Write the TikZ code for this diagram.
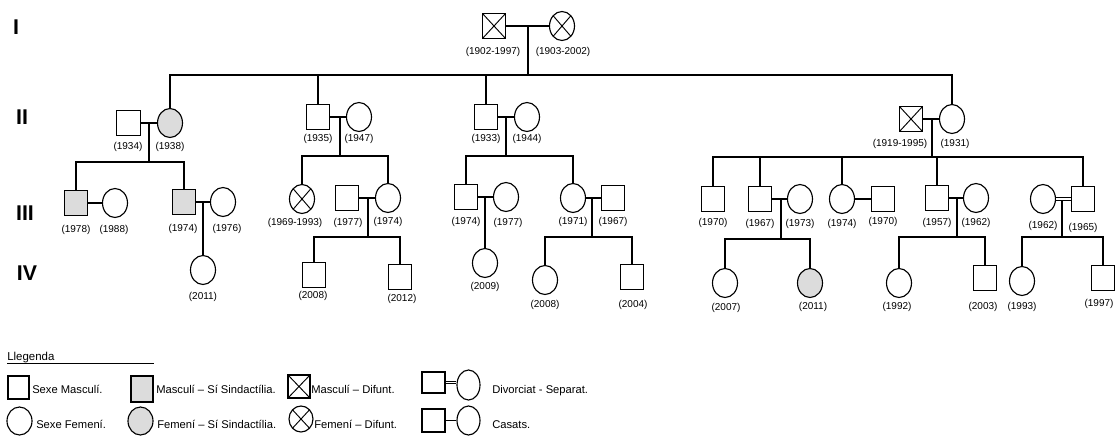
\documentclass[tikz,border=0pt]{standalone}
\usepackage{fontspec}
\setmainfont{Liberation Sans}
\usetikzlibrary{shapes.geometric,calc}
\definecolor{affgray}{HTML}{DCDCDC}
\tikzset{
  male/.style={draw, rectangle, minimum width=17.5pt, minimum height=19pt, inner sep=0pt, line width=0.85pt},
  female/.style={draw, ellipse, minimum width=18.75pt, minimum height=21.75pt, inner sep=0pt, line width=0.85pt},
  affected/.style={fill=affgray},
  deceased/.style={path picture={\draw[line width=0.7pt] (path picture bounding box.south west) -- (path picture bounding box.north east) (path picture bounding box.north west) -- (path picture bounding box.south east);}},
  lbl/.style={font=\fontsize{7.5pt}{8pt}\selectfont, inner sep=0pt},
  gen/.style={font=\fontsize{16pt}{18pt}\selectfont\bfseries, inner sep=0pt},
  leg/.style={font=\fontsize{8.4pt}{10pt}\selectfont, inner sep=0pt, anchor=base west},
  link/.style={line width=0.85pt},
  divorced/.style={line width=0.7pt, double, double distance=1.4pt},
}
\begin{document}
\begin{tikzpicture}[x=0.75pt, y=-0.75pt]
\useasboundingbox (0,0) rectangle (1115,440);

% generation labels
\node[gen] (gI) at (16,27) {I};
\node[gen] (gII) at (22,117) {II};
\node[gen] (gIII) at (25,213) {III};
\node[gen] (gIV) at (27,273) {IV};

% ---------- Generation I ----------
\node[male, deceased] (p1) at (494,26) {};
\node[female, deceased] (p2) at (562,26) {};
\node[lbl] (lp1) at (493,52) {(1902-1997)};
\node[lbl] (lp2) at (563,52) {(1903-2002)};
\coordinate (mI) at (528,26);
\coordinate (bI) at (528,75);
\draw[link] (p1.east) -- (p2.west);
\draw[link] (mI) -- (bI);

% ---------- Generation II ----------
\node[male] (s1934) at (128.5,123) {};
\node[female, affected] (c1938) at (170,123) {};
\node[lbl] (l1934) at (128,147) {(1934)};
\node[lbl] (l1938) at (170,147) {(1938)};
\coordinate (m1) at (149,123);
\coordinate (b1) at (149,162);

\node[male] (s1935) at (318,117) {};
\node[female] (c1947) at (359,117) {};
\node[lbl] (l1935) at (318,139) {(1935)};
\node[lbl] (l1947) at (359,139) {(1947)};
\coordinate (m2) at (340,117);
\coordinate (b2) at (340,156);

\node[male] (s1933) at (486,117) {};
\node[female] (c1944) at (527,117) {};
\node[lbl] (l1933) at (486,139) {(1933)};
\node[lbl] (l1944) at (527,139) {(1944)};
\coordinate (m3) at (506,117);
\coordinate (b3) at (506,156);

\node[male, deceased] (s1919) at (911,119) {};
\node[female] (c1931) at (952,119) {};
\node[lbl] (l1919) at (900,144) {(1919-1995)};
\node[lbl] (l1931) at (955,144) {(1931)};
\coordinate (m4) at (932,119);
\coordinate (b4) at (932,157);

\draw[link] (bI) -| (c1938.north);
\draw[link] (bI) -| (s1935.north);
\draw[link] (bI) -| (s1933.north);
\draw[link] (bI) -| (c1931.north);
\draw[link] (s1934.east) -- (c1938.west);
\draw[link] (s1935.east) -- (c1947.west);
\draw[link] (s1933.east) -- (c1944.west);
\draw[link] (s1919.east) -- (c1931.west);
\draw[link] (m1) -- (b1);
\draw[link] (m2) -- (b2);
\draw[link] (m3) -- (b3);
\draw[link] (m4) -- (b4);

% ---------- Generation III : family 1 ----------
\node[male, affected] (s1978) at (76,203) {};
\node[female] (c1988) at (115,203) {};
\node[lbl] (l1978) at (76,230) {(1978)};
\node[lbl] (l1988) at (114,230) {(1988)};
\node[male, affected] (s1974a) at (184,202) {};
\node[female] (c1976) at (223,202) {};
\node[lbl] (l1974a) at (183,229) {(1974)};
\node[lbl] (l1976) at (227,229) {(1976)};
\coordinate (m5) at (203,202);
\node[female] (c2011a) at (203,270) {};
\node[lbl] (l2011a) at (203,297) {(2011)};
\draw[link] (b1) -| (s1978.north);
\draw[link] (b1) -| (s1974a.north);
\draw[link] (s1978.east) -- (c1988.west);
\draw[link] (s1974a.east) -- (c1976.west);
\draw[link] (m5) -- (c2011a.north);

% ---------- Generation III : family 2 ----------
\node[female, deceased] (c1969) at (302,199) {};
\node[lbl] (l1969) at (295,223) {(1969-1993)};
\node[male] (s1977) at (347,198) {};
\node[female] (c1974b) at (388,198) {};
\node[lbl] (l1977) at (348,223) {(1977)};
\node[lbl] (l1974b) at (388,222) {(1974)};
\coordinate (m6) at (368,198);
\coordinate (b6) at (368,237);
\node[male] (s2008a) at (314,275) {};
\node[male] (s2012) at (400,277) {};
\node[lbl] (l2008a) at (313,296) {(2008)};
\node[lbl] (l2012) at (402,299) {(2012)};
\draw[link] (b2) -| (c1969.north);
\draw[link] (b2) -| (c1974b.north);
\draw[link] (s1977.east) -- (c1974b.west);
\draw[link] (m6) -- (b6);
\draw[link] (b6) -| (s2008a.north);
\draw[link] (b6) -| (s2012.north);

% ---------- Generation III : family 3 ----------
\node[male] (s1974c) at (466,197) {};
\node[female] (c1977) at (506,197) {};
\node[lbl] (l1974c) at (466,222) {(1974)};
\node[lbl] (l1977b) at (508,223) {(1977)};
\coordinate (m7) at (485,197);
\node[female] (c2009) at (485,263) {};
\node[lbl] (l2009) at (485,287) {(2009)};
\node[female] (c1971) at (573,198) {};
\node[male] (s1967a) at (613,198) {};
\node[lbl] (l1971) at (573,222) {(1971)};
\node[lbl] (l1967a) at (613,222) {(1967)};
\coordinate (m8) at (592,198);
\coordinate (b8) at (592,237);
\node[female] (c2008) at (545,280) {};
\node[male] (s2004) at (632,277) {};
\node[lbl] (l2008b) at (545,305) {(2008)};
\node[lbl] (l2004) at (633,305) {(2004)};
\draw[link] (b3) -| (s1974c.north);
\draw[link] (b3) -| (c1971.north);
\draw[link] (s1974c.east) -- (c1977.west);
\draw[link] (m7) -- (c2009.north);
\draw[link] (c1971.east) -- (s1967a.west);
\draw[link] (m8) -- (b8);
\draw[link] (b8) -| (c2008.north);
\draw[link] (b8) -| (s2004.north);

% ---------- Generation III : family 4 ----------
\node[male] (s1970a) at (713,199) {};
\node[lbl] (l1970a) at (713,223) {(1970)};
\node[male] (s1967b) at (760,199) {};
\node[female] (c1973) at (800,199) {};
\node[lbl] (l1967b) at (760,224) {(1967)};
\node[lbl] (l1973) at (800,224) {(1973)};
\coordinate (m9) at (781,199);
\coordinate (b9) at (781,239);
\node[female] (c1974d) at (842,199) {};
\node[male] (s1970b) at (883,199) {};
\node[lbl] (l1974d) at (842,224) {(1974)};
\node[lbl] (l1970b) at (883,222) {(1970)};
\node[male] (s1957) at (937,198) {};
\node[female] (c1962a) at (976,198) {};
\node[lbl] (l1957) at (937,223) {(1957)};
\node[lbl] (l1962a) at (976,223) {(1962)};
\coordinate (m10) at (957,198);
\coordinate (b10) at (957,237);
\node[female] (c1962b) at (1043,199) {};
\node[male] (s1965) at (1083,199) {};
\node[lbl] (l1962b) at (1043,226) {(1962)};
\node[lbl] (l1965) at (1083,228) {(1965)};
\coordinate (m11) at (1062,200);
\coordinate (b11) at (1062,237);

\draw[link] (b4) -| (s1970a.north);
\draw[link] (b4) -| (s1967b.north);
\draw[link] (b4) -| (c1974d.north);
\draw[link] (b4) -| (s1957.north);
\draw[link] (b4) -| (s1965.north);
\draw[link] (s1967b.east) -- (c1973.west);
\draw[link] (c1974d.east) -- (s1970b.west);
\draw[link] (s1957.east) -- (c1962a.west);
\draw[divorced] (c1962b.east) -- (s1965.west);
\draw[link] (m9) -- (b9);
\draw[link] (m10) -- (b10);
\draw[link] (m11) -- (b11);

% ---------- Generation IV : family 4 ----------
\node[female] (c2007) at (725,283) {};
\node[female, affected] (c2011b) at (810,283) {};
\node[lbl] (l2007) at (726,308) {(2007)};
\node[lbl] (l2011b) at (813,307) {(2011)};
\node[female] (c1992) at (899,283) {};
\node[male] (s2003) at (985,278) {};
\node[lbl] (l1992) at (897,307) {(1992)};
\node[lbl] (l2003) at (983,307) {(2003)};
\node[female] (c1993) at (1022,281) {};
\node[male] (s1997) at (1103,278) {};
\node[lbl] (l1993) at (1022,307) {(1993)};
\node[lbl] (l1997) at (1099,304) {(1997)};
\draw[link] (b9) -| (c2007.north);
\draw[link] (b9) -| (c2011b.north);
\draw[link] (b10) -| (c1992.north);
\draw[link] (b10) -| (s2003.north);
\draw[link] (b11) -| (c1993.north);
\draw[link] (b11) -| (s1997.north);

% ---------- Legend ----------
\node[leg, font=\fontsize{8.6pt}{10pt}\selectfont] (lt) at (7,360) {Llegenda};
\coordinate (u1) at (7,363);
\coordinate (u2) at (154,363);
\draw[line width=0.6pt] (u1) -- (u2);

\node[male, minimum width=15.75pt, minimum height=17.25pt] (k1) at (18.5,387.5) {};
\node[leg] (t1) at (32,393) {Sexe Masculí.};
\node[male, affected, minimum width=16.5pt, minimum height=19.5pt] (k2) at (142,389) {};
\node[leg] (t2) at (156,393) {Masculí – Sí Sindactília.};
\node[male, deceased, minimum width=16.5pt, minimum height=17.25pt] (k3) at (299,386.5) {};
\node[leg] (t3) at (311,393) {Masculí – Difunt.};
\node[male, minimum width=17.25pt, minimum height=15.75pt] (k4a) at (433.5,382.5) {};
\node[female, minimum width=17.25pt, minimum height=22.5pt] (k4b) at (468.5,385) {};
\draw[divorced] (k4a.east) -- (k4a.east -| k4b.west);
\node[leg] (t4) at (492,393) {Divorciat - Separat.};

\node[female, minimum width=18.75pt, minimum height=21pt] (k5) at (19.5,421) {};
\node[leg] (t5) at (36,428) {Sexe Femení.};
\node[female, affected, minimum width=18.75pt, minimum height=21pt] (k6) at (140.5,421) {};
\node[leg] (t6) at (157,428) {Femení – Sí Sindactília.};
\node[female, deceased, minimum width=18pt, minimum height=19.5pt] (k7) at (301,419) {};
\node[leg] (t7) at (314,428) {Femení – Difunt.};
\node[male, minimum width=17.25pt, minimum height=17.25pt] (k8a) at (433.5,420.5) {};
\node[female, minimum width=17.25pt, minimum height=21.75pt] (k8b) at (468.5,420.5) {};
\draw[link] (k8a.east) -- (k8b.west);
\node[leg] (t8) at (492,428) {Casats.};
\end{tikzpicture}
\end{document}
